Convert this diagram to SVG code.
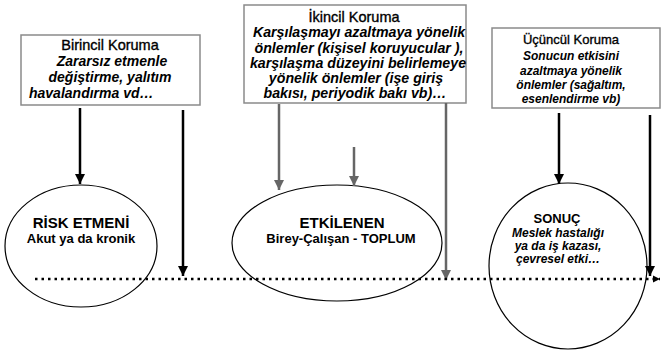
<svg xmlns="http://www.w3.org/2000/svg" width="662" height="357" viewBox="0 0 662 357">
<defs>
<style>
.box{fill:#fff;stroke:#8a8a8a;stroke-width:1.5}
.ell{fill:none;stroke:#000;stroke-width:1.2}
.t{font-family:"Liberation Sans",Arial,sans-serif;fill:#000;text-anchor:middle}
.h{font-weight:normal;stroke:#000;stroke-width:0.35}
.bi{font-weight:bold;font-style:italic}
.b{font-weight:bold}
.ak{stroke:#000;stroke-width:2.5;fill:none}
.ag{stroke:#666;stroke-width:2.5;fill:none}
</style>
<marker id="mk" viewBox="0 0 10 10" refX="10" refY="5" markerWidth="4" markerHeight="4" markerUnits="strokeWidth" orient="auto"><path d="M0,0 L10,5 L0,10 z" fill="#000"/></marker>
<marker id="mg" viewBox="0 0 10 10" refX="10" refY="5" markerWidth="4" markerHeight="4" markerUnits="strokeWidth" orient="auto"><path d="M0,0 L10,5 L0,10 z" fill="#666"/></marker>
<marker id="md" viewBox="0 0 10 10" refX="10" refY="5" markerWidth="3" markerHeight="3" markerUnits="strokeWidth" orient="auto"><path d="M0,0 L10,5 L0,10 z" fill="#000"/></marker>
</defs>
<rect width="662" height="357" fill="#fff"/>

<g id="birincil">
<rect class="box" x="21" y="35" width="179" height="70"/>
<text class="t h" x="110" y="50" font-size="14.5">Birincil Koruma</text>
<text class="t bi" x="112" y="66" font-size="14">Zararsız etmenle</text>
<text class="t bi" x="110" y="82" font-size="14">değiştirme, yalıtım</text>
<text class="t bi" x="29" y="98" font-size="14" style="text-anchor:start">havalandırma vd…</text>
</g>

<g id="ikincil">
<rect class="box" x="244" y="5" width="222" height="98"/>
<text class="t h" x="354" y="22" font-size="14.5">İkincil Koruma</text>
<text class="t bi" x="359" y="37" font-size="14.2">Karşılaşmayı azaltmaya yönelik</text>
<text class="t bi" x="359" y="53" font-size="14.2">önlemler (kişisel koruyucular ),</text>
<text class="t bi" x="358" y="68" font-size="14.2">karşılaşma düzeyini belirlemeye</text>
<text class="t bi" x="356" y="83" font-size="14.2">yönelik önlemler (işe giriş</text>
<text class="t bi" x="355" y="98" font-size="14.2">bakısı, periyodik bakı vb)…</text>
</g>

<g id="ucuncul">
<rect class="box" x="492" y="28" width="168" height="80"/>
<text class="t h" x="571" y="44" font-size="13">Üçüncül Koruma</text>
<text class="t bi" x="571" y="60" font-size="12">Sonucun etkisini</text>
<text class="t bi" x="571" y="75" font-size="12">azaltmaya yönelik</text>
<text class="t bi" x="571" y="89" font-size="12">önlemler (sağaltım,</text>
<text class="t bi" x="571" y="103" font-size="12">esenlendirme vb)</text>
</g>

<g id="risk">
<ellipse class="ell" cx="81" cy="246" rx="76" ry="61"/>
<text class="t b" x="81" y="228" font-size="15">RİSK ETMENİ</text>
<text class="t b" x="81" y="243" font-size="13">Akut ya da kronik</text>
</g>

<g id="etkilenen">
<ellipse class="ell" cx="337" cy="243" rx="105" ry="58"/>
<text class="t b" x="342" y="228" font-size="15">ETKİLENEN</text>
<text class="t b" x="341" y="243" font-size="13">Birey-Çalışan - TOPLUM</text>
</g>

<g id="sonuc">
<ellipse class="ell" cx="568" cy="266" rx="79" ry="83"/>
<text class="t b" x="557" y="223" font-size="13">SONUÇ</text>
<text class="t bi" x="558" y="237" font-size="12">Meslek hastalığı</text>
<text class="t bi" x="558" y="250" font-size="12">ya da iş kazası,</text>
<text class="t bi" x="558" y="263" font-size="12">çevresel etki…</text>
</g>

<g id="connectors">
<line class="ak" x1="80" y1="108" x2="80" y2="184" marker-end="url(#mk)"/>
<line class="ak" x1="183" y1="110" x2="183" y2="276" marker-end="url(#mk)"/>
<line class="ag" x1="279" y1="104" x2="279" y2="190" marker-end="url(#mg)"/>
<line class="ag" x1="354" y1="147" x2="354" y2="186" marker-end="url(#mg)"/>
<line class="ag" x1="446" y1="103" x2="446" y2="280" marker-end="url(#mg)"/>
<line class="ak" x1="559" y1="113" x2="559" y2="184" marker-end="url(#mk)"/>
<line class="ak" x1="650" y1="115" x2="650" y2="276" marker-end="url(#mk)"/>
<line x1="35" y1="279" x2="660" y2="279" stroke="#000" stroke-width="2.5" stroke-dasharray="2.5 4" marker-end="url(#md)"/>
</g>
</svg>
